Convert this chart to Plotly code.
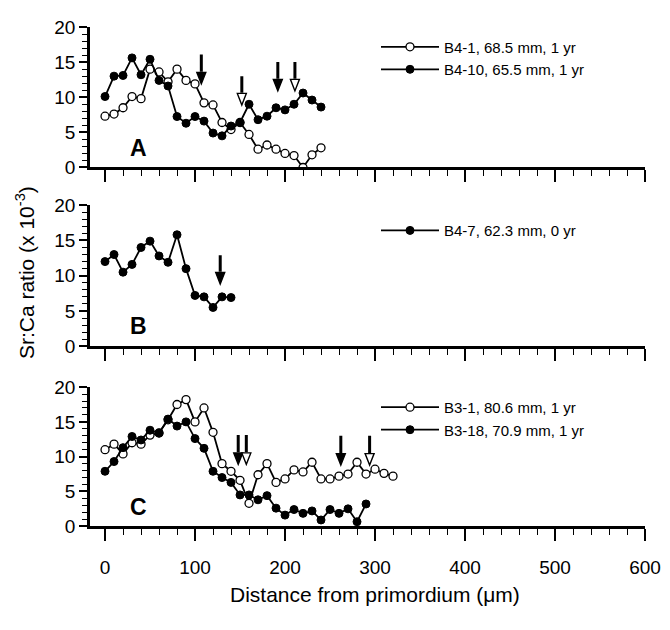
import plotly.graph_objects as go

# ---------------- data ----------------
# Panel A
x_a = [0, 10, 20, 30, 40, 50, 60, 70, 80, 90, 100, 110, 120, 130, 140, 150, 160, 170, 180, 190, 200, 210, 220, 230, 240]
b4_1 = [7.3, 7.6, 8.5, 10.1, 9.8, 14.0, 13.6, 12.2, 14.0, 12.4, 11.9, 9.2, 8.9, 6.4, 5.4, 6.4, 4.7, 2.6, 3.2, 2.6, 2.0, 1.7, 0.0, 1.8, 2.8]
b4_10 = [10.1, 13.0, 13.1, 15.6, 13.2, 15.4, 12.4, 11.6, 7.25, 6.3, 7.25, 6.6, 4.9, 4.5, 5.9, 6.4, 9.0, 6.8, 7.3, 8.5, 8.2, 9.0, 10.6, 9.6, 8.6]

# Panel B
x_b = [0, 10, 20, 30, 40, 50, 60, 70, 80, 90, 100, 110, 120, 130, 140]
b4_7 = [12.0, 13.0, 10.5, 11.6, 14.0, 14.9, 12.8, 11.9, 15.8, 11.0, 7.2, 7.0, 5.5, 7.0, 6.9]

# Panel C
x_c1 = [0, 10, 20, 30, 40, 50, 60, 70, 80, 90, 100, 110, 120, 130, 140, 150, 160, 170, 180, 190, 200, 210, 220, 230, 240, 250, 260, 270, 280, 290, 300, 310, 320]
b3_1 = [11.0, 11.8, 10.4, 12.0, 11.8, 13.1, 13.4, 15.3, 17.5, 18.2, 15.0, 17.0, 13.5, 9.0, 7.9, 6.6, 3.3, 7.4, 9.0, 6.3, 6.8, 8.1, 7.8, 9.2, 6.8, 6.8, 7.2, 7.5, 9.2, 7.5, 8.2, 7.6, 7.2]
x_c2 = [0, 10, 20, 30, 40, 50, 60, 70, 80, 90, 100, 110, 120, 130, 140, 150, 160, 170, 180, 190, 200, 210, 220, 230, 240, 250, 260, 270, 280, 290]
b3_18 = [7.9, 9.3, 11.3, 12.9, 12.4, 13.8, 13.4, 15.4, 14.4, 15.0, 12.6, 11.2, 7.9, 7.0, 6.3, 4.5, 4.5, 3.8, 4.4, 2.6, 1.6, 2.4, 1.85, 2.2, 0.9, 2.4, 1.85, 2.5, 0.65, 3.2]

# Arrows marking growth checks: panel, x, top, tip, filled head
arrow_panel = ["A", "A", "A", "A", "B", "C", "C", "C", "C"]
arrow_x = [107, 152, 192, 211, 128, 148, 157, 262, 294]
arrow_top = [16.1, 13.0, 15.0, 15.0, 12.9, 13.1, 13.1, 13.0, 13.0]
arrow_tip = [11.9, 8.9, 10.9, 10.9, 8.8, 8.9, 8.9, 8.8, 8.8]
arrow_filled = [True, False, True, False, True, True, False, True, False]

panel_letters = ["A", "B", "C"]
y_ticks = [0, 5, 10, 15, 20]
x_ticks = [0, 100, 200, 300, 400, 500, 600]

# ---------------- layout geometry ----------------
# page body has an 8px margin; figure is sized to fit inside the 670x630 window
OFF = 8
W, H = 670 - OFF, 630 - OFF
ML = 90 - OFF
PR = 645 - OFF           # pixel of x = 600
MR = W - PR
XR = [-16.7, 600]
YR = [0, 20]
dom = {"A": (17.3 - OFF, 162.7 - OFF), "B": (201.7 - OFF, 347.7 - OFF), "C": (390.0 - OFF, 534.0 - OFF)}
axis_name = {"A": ("x", "y"), "B": ("x2", "y2"), "C": ("x3", "y3")}

FONT = "Liberation Sans, Arial, sans-serif"
fig = go.Figure()


def open_trace(x, y, name, xa, ya, legend):
    return go.Scatter(x=x, y=y, name=name, mode="lines+markers", xaxis=xa, yaxis=ya, legend=legend,
                      line=dict(color="black", width=1.8),
                      marker=dict(symbol="circle", size=8, color="white", line=dict(color="black", width=1.3)))


def filled_trace(x, y, name, xa, ya, legend):
    return go.Scatter(x=x, y=y, name=name, mode="lines+markers", xaxis=xa, yaxis=ya, legend=legend,
                      line=dict(color="black", width=1.8),
                      marker=dict(symbol="circle", size=8, color="black", line=dict(color="black", width=1)))


fig.add_trace(open_trace(x_a, b4_1, "B4-1, 68.5 mm, 1 yr", "x", "y", "legend"))
fig.add_trace(filled_trace(x_a, b4_10, "B4-10, 65.5 mm, 1 yr", "x", "y", "legend"))
fig.add_trace(filled_trace(x_b, b4_7, "B4-7, 62.3 mm, 0 yr", "x2", "y2", "legend2"))
fig.add_trace(open_trace(x_c1, b3_1, "B3-1, 80.6 mm, 1 yr", "x3", "y3", "legend3"))
fig.add_trace(filled_trace(x_c2, b3_18, "B3-18, 70.9 mm, 1 yr", "x3", "y3", "legend3"))

pw = W - ML - MR
px_per_x = pw / (XR[1] - XR[0])
px_per_y = 146.0 / 20.0

shapes = []
for p, ax, top, tip, filled in zip(arrow_panel, arrow_x, arrow_top, arrow_tip, arrow_filled):
    xa, ya = axis_name[p]
    head_len = 12 / px_per_y
    hw = 4.5 / px_per_x
    yh = tip + head_len
    shapes.append(dict(type="line", xref=xa, yref=ya, x0=ax, x1=ax, y0=top, y1=yh + 0.1,
                       line=dict(color="black", width=3)))
    shapes.append(dict(type="path", xref=xa, yref=ya,
                       path=f"M {ax - hw},{yh} L {ax + hw},{yh} L {ax},{tip} Z",
                       fillcolor="black" if filled else "white",
                       line=dict(color="black", width=1.4)))

annotations = []
for letter in panel_letters:
    xa, ya = axis_name[letter]
    annotations.append(dict(x=37, y=2.8, xref=xa, yref=ya, text=f"<b>{letter}</b>", showarrow=False,
                            xanchor="center", yanchor="middle",
                            font=dict(family=FONT, size=23, color="black")))

annotations.append(dict(xref="paper", yref="paper", x=(25 - OFF - ML) / pw, y=1 - (272 - OFF) / H,
                        xanchor="center", yanchor="middle",
                        text="Sr:Ca ratio (x 10<sup>-3</sup>)", textangle=-90, showarrow=False,
                        font=dict(family=FONT, size=21, color="black")))
annotations.append(dict(xref="paper", yref="paper", x=(375 - OFF - ML) / pw, y=1 - (605 - OFF) / H,
                        xanchor="center", yanchor="middle",
                        text="Distance from primordium (\u03bcm)", showarrow=False,
                        font=dict(family=FONT, size=21, color="black")))

layout = dict(width=W, height=H, margin=dict(l=ML, r=MR, t=0, b=0),
              paper_bgcolor="white", plot_bgcolor="white",
              font=dict(family=FONT, color="black"),
              shapes=shapes, annotations=annotations)


def xaxis_def(show_labels, anchor):
    return dict(range=XR, domain=[0, 1], anchor=anchor, showgrid=False, zeroline=False,
                showline=True, linecolor="black", linewidth=2.5,
                ticks="outside", ticklen=12, tickwidth=1.8, tickcolor="black",
                tickmode="array", tickvals=x_ticks, showticklabels=show_labels,
                ticklabelstandoff=10,
                tickfont=dict(family=FONT, size=19, color="black"),
                minor=dict(dtick=20, tick0=0, ticks="outside", ticklen=6, tickwidth=1.3, tickcolor="black"))


def yaxis_def(p, anchor):
    top, bot = dom[p]
    return dict(range=YR, domain=[1 - bot / H, 1 - top / H], anchor=anchor, showgrid=False, zeroline=False,
                showline=True, linecolor="black", linewidth=2.5,
                ticks="outside", ticklen=8, tickwidth=1.6, tickcolor="black",
                tickmode="array", tickvals=y_ticks,
                tickfont=dict(family=FONT, size=19, color="black"),
                minor=dict(dtick=1, tick0=0, ticks="outside", ticklen=5, tickwidth=1.2, tickcolor="black"))


layout["xaxis"] = xaxis_def(False, "y")
layout["yaxis"] = yaxis_def("A", "x")
layout["xaxis2"] = xaxis_def(False, "y2")
layout["yaxis2"] = yaxis_def("B", "x2")
layout["xaxis3"] = xaxis_def(True, "y3")
layout["yaxis3"] = yaxis_def("C", "x3")

leg_common = dict(xanchor="left", yanchor="top", bgcolor="rgba(0,0,0,0)", borderwidth=0,
                  font=dict(family=FONT, size=15, color="black"), itemwidth=58, tracegroupgap=0)
LX = (376 - OFF - ML) / pw
layout["legend"] = dict(x=LX, y=1 - (21 - OFF) / H, **leg_common)
layout["legend2"] = dict(x=LX, y=1 - (211 - OFF) / H, **leg_common)
layout["legend3"] = dict(x=LX, y=1 - (394 - OFF) / H, **leg_common)

fig.update_layout(**layout)
fig.write_html("out.html")
